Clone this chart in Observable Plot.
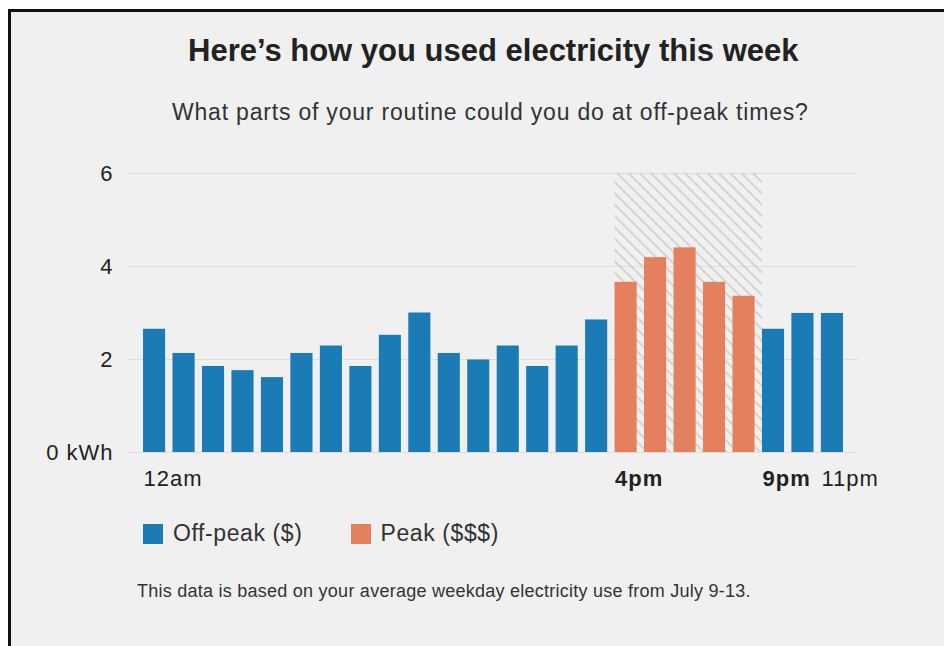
<!DOCTYPE html>
<html>
<head>
<meta charset="utf-8">
<script src="https://cdn.jsdelivr.net/npm/d3@7"></script>
<script src="https://cdn.jsdelivr.net/npm/@observablehq/plot@0.6"></script>
<style>
html, body { margin: 0; padding: 0; background: #fff; width: 944px; height: 646px; overflow: hidden;
  font-family: "Liberation Sans", Arial, Helvetica, sans-serif; }
#card { position: absolute; left: 8px; top: 9px; right: 0; bottom: 0; background: #f0f0f0;
  border-top: 3px solid #111; border-left: 3px solid #111; }
.abs { position: absolute; white-space: nowrap; line-height: 1; }
#title { left: 188px; top: 34.5px; font-size: 31px; font-weight: bold; color: #222; }
#subtitle { left: 172px; top: 100.5px; font-size: 23px; letter-spacing: 0.8px; color: #333; }
#chart { left: 0; top: 150px; }
#legend { left: 143px; top: 522px; display: flex; align-items: center; }
.item { display: flex; align-items: center; margin-right: 48px; font-size: 23px; letter-spacing: 0.6px; color: #333; }
.sw { width: 20px; height: 20px; margin-right: 10px; }
#caption { left: 137px; top: 581.8px; font-size: 18px; letter-spacing: 0.25px; color: #333; }
</style>
</head>
<body>
<div id="card"></div>
<div id="title" class="abs"></div>
<div id="subtitle" class="abs"></div>
<div id="chart" class="abs"></div>
<div id="legend" class="abs"></div>
<div id="caption" class="abs"></div>
<script>
// ---- data ----
const hours = [0, 1, 2, 3, 4, 5, 6, 7, 8, 9, 10, 11, 12, 13, 14, 15, 16, 17, 18, 19, 20, 21, 22, 23];
const usage = [2.65, 2.13, 1.85, 1.76, 1.61, 2.13, 2.29, 1.85, 2.52, 3.0, 2.13, 1.99, 2.29, 1.85, 2.29, 2.85,
               3.66, 4.19, 4.4, 3.66, 3.36, 2.65, 2.99, 2.99];
const categories = ["Off-peak ($)", "Peak ($$$)"];
const periods = [
  "Off-peak ($)", "Off-peak ($)", "Off-peak ($)", "Off-peak ($)", "Off-peak ($)", "Off-peak ($)", "Off-peak ($)", "Off-peak ($)",
  "Off-peak ($)", "Off-peak ($)", "Off-peak ($)", "Off-peak ($)", "Off-peak ($)", "Off-peak ($)", "Off-peak ($)", "Off-peak ($)",
  "Peak ($$$)", "Peak ($$$)", "Peak ($$$)", "Peak ($$$)", "Peak ($$$)",
  "Off-peak ($)", "Off-peak ($)", "Off-peak ($)"];
const colors = ["#1b7bb4", "#e5805e"];
const peakHours = [16, 17, 18, 19, 20];
const yTicks = [0, 2, 4, 6];
const tickHours = [0, 16, 21, 23];
const tickLabels = ["12am", "4pm", "9pm", "11pm"];
const tickBold = [false, true, true, false];
const titleText = "Here’s how you used electricity this week";
const subtitleText = "What parts of your routine could you do at off-peak times?";
const captionText = "This data is based on your average weekday electricity use from July 9-13.";

// ---- build ----
const data = hours.map((h, i) => ({hour: h, kwh: usage[i], period: periods[i]}));
const ticks = tickHours.map((h, i) => ({hour: h, label: tickLabels[i], bold: tickBold[i]}));
const yMax = yTicks[yTicks.length - 1];

document.getElementById("title").textContent = titleText;
document.getElementById("subtitle").textContent = subtitleText;
document.getElementById("caption").textContent = captionText;

const chart = Plot.plot({
  width: 944, height: 350,
  marginLeft: 128, marginRight: 86, marginTop: 23, marginBottom: 48,
  style: {background: "transparent", fontFamily: "'Liberation Sans', Arial, sans-serif", fontSize: "22px",
          letterSpacing: "1px", color: "#222", overflow: "visible"},
  x: {type: "band", domain: hours, paddingInner: 0.25, paddingOuter: 0.51, round: false, axis: null},
  y: {domain: [0, yMax], label: null, axis: null},
  color: {domain: categories, range: colors},
  marks: [
    Plot.gridY(yTicks, {stroke: "#dedede", strokeOpacity: 1, strokeWidth: 1}),
    Plot.barY(peakHours, {x: d => d, y: d => yMax, fill: "#cccccc", insetRight: -7.4}),
    Plot.barY(data, {x: "hour", y: "kwh", fill: "period"}),
    Plot.axisY(yTicks, {tickSize: 0, tickPadding: 15, fontSize: 22, fill: "#222",
                        tickFormat: d => d === 0 ? "0 kWh" : String(d), label: null}),
    Plot.text(ticks.filter(t => !t.bold), {x: "hour", y: d => 0, text: "label", textAnchor: "start",
      lineAnchor: "top", dx: -11, dy: 18, fontSize: 22, fill: "#222"}),
    Plot.text(ticks.filter(t => t.bold), {x: "hour", y: d => 0, text: "label", textAnchor: "start",
      lineAnchor: "top", dx: -11, dy: 18, fontSize: 22, fontWeight: "bold", fill: "#222"})
  ]
});

// hatch pattern for the peak window
const svgSel = d3.select(chart);
const defs = svgSel.insert("defs", ":first-child");
const pat = defs.append("pattern").attr("id", "peakHatch").attr("patternUnits", "userSpaceOnUse")
  .attr("width", 8).attr("height", 8).attr("patternTransform", "rotate(-45)");
pat.append("line").attr("x1", 4).attr("y1", -1).attr("x2", 4).attr("y2", 9)
  .attr("stroke", "#cdcdcd").attr("stroke-width", 1.6);
svgSel.select('g[aria-label="bar"]').attr("fill", "url(#peakHatch)");

document.getElementById("chart").appendChild(chart);

// legend
const legend = d3.select("#legend");
categories.forEach((c, i) => {
  const it = legend.append("div").attr("class", "item");
  it.append("div").attr("class", "sw").style("background", colors[i]);
  it.append("span").text(c);
});
</script>
</body>
</html>
